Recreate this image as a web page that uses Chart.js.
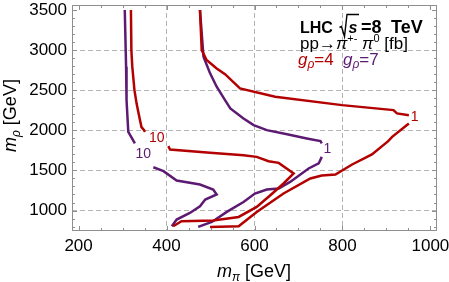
<!DOCTYPE html>
<html>
<head>
<meta charset="utf-8">
<script src="https://cdn.jsdelivr.net/npm/chart.js@4.4.0/dist/chart.umd.min.js"></script>
<style>
  html, body { margin: 0; padding: 0; background: #fff; overflow: hidden; }
</style>
</head>
<body>
<canvas id="chart" width="449" height="282"></canvas>
<script>
// Tick labels
const xTicks = [200, 400, 600, 800, 1000];
const yTicks = [1000, 1500, 2000, 2500, 3000, 3500];

// g_rho = 4, 10 fb contour (split where the label sits)
const red10aX = [319, 320, 322, 327, 332, 338, 343, 349, 351];
const red10aY = [3500, 3000, 2800, 2500, 2330, 2170, 2040, 2000, 1981];
const red10bX = [404, 408, 499, 575, 605, 632, 655, 689, 666, 636, 605, 564, 506, 434, 415];
const red10bY = [1803, 1761, 1719, 1690, 1669, 1615, 1594, 1462, 1337, 1191, 1045, 920, 875, 866, 804];

// g_rho = 4, 1 fb contour
const red1aX = [476, 480, 491, 514, 533, 567, 647, 799, 916, 924, 951];
const red1aY = [3500, 3000, 2876, 2771, 2700, 2523, 2418, 2314, 2252, 2211, 2189];
const red1bX = [951, 913, 904, 867, 822, 784, 753, 727, 666, 605, 564, 499];
const red1bY = [2086, 1919, 1865, 1699, 1574, 1449, 1437, 1399, 1212, 983, 804, 796];

// g_rho = 7, 10 fb contour
const pur10aX = [305, 308, 309, 313, 328];
const pur10aY = [3500, 2792, 2377, 1981, 1836];
const pur10bX = [370, 393, 423, 476, 506, 514, 488, 476, 453, 423, 412];
const pur10bY = [1540, 1491, 1374, 1325, 1262, 1200, 1137, 1054, 970, 888, 804];

// g_rho = 7, 1 fb contour
const pur1aX = [476, 484, 499, 514, 533, 545, 575, 598, 628, 674, 719, 750, 753];
const pur1aY = [3500, 2917, 2710, 2543, 2377, 2273, 2148, 2065, 2002, 1952, 1899, 1865, 1836];
const pur1bX = [753, 746, 723, 681, 655, 628, 601, 575, 537, 503, 472];
const pur1bY = [1669, 1587, 1524, 1357, 1275, 1262, 1212, 1107, 983, 858, 796];

// Contour labels
const labelText = ['10', '10', '1', '1'];
const labelX = [378, 347, 964, 766];
const labelY = [1899, 1699, 2168, 1761];
const labelSeries = ['red', 'purple', 'red', 'purple'];

const RED = '#b30000';
const PURPLE = '#5d1a72';
const FONT = "'Liberation Sans', Arial, sans-serif";

Chart.defaults.font.family = FONT;
Chart.defaults.color = '#000';

function pts(xs, ys) {
  return xs.map((x, i) => ({ x: x, y: ys[i] }));
}

function contour(xs, ys, color) {
  return {
    data: pts(xs, ys),
    borderColor: color,
    borderWidth: 2.5,
    showLine: true,
    pointRadius: 0,
    fill: false,
    tension: 0
  };
}

// frame with inward ticks on all four sides
const framePlugin = {
  id: 'frame',
  afterDatasetsDraw(chart) {
    const { ctx, chartArea: a, scales: { x, y } } = chart;
    ctx.save();
    ctx.strokeStyle = '#8f8f8f';
    ctx.lineWidth = 1;
    ctx.strokeRect(a.left + 0.5, a.top + 0.5, a.right - a.left - 1, a.bottom - a.top - 1);
    ctx.beginPath();
    for (let v = 200; v <= 1000; v += 50) {
      const px = Math.round(x.getPixelForValue(v)) + 0.5;
      const len = v % 200 === 0 ? 5 : 3;
      ctx.moveTo(px, a.bottom); ctx.lineTo(px, a.bottom - len);
      ctx.moveTo(px, a.top); ctx.lineTo(px, a.top + len);
    }
    for (let v = 800; v <= 3500; v += 100) {
      const py = Math.round(y.getPixelForValue(v)) + 0.5;
      const len = v % 500 === 0 ? 5 : 3;
      ctx.moveTo(a.left, py); ctx.lineTo(a.left + len, py);
      ctx.moveTo(a.right, py); ctx.lineTo(a.right - len, py);
    }
    ctx.stroke();
    ctx.restore();
  }
};

// draws a run of text pieces: [text, font, dy]
function drawRun(ctx, x0, y0, pieces) {
  let cx = x0;
  pieces.forEach(p => {
    ctx.font = p[1];
    ctx.fillText(p[0], cx, y0 + (p[2] || 0));
    cx += ctx.measureText(p[0]).width;
  });
}

const textPlugin = {
  id: 'texts',
  afterDraw(chart) {
    const { ctx, scales: { x, y } } = chart;
    ctx.save();
    ctx.textBaseline = 'alphabetic';
    ctx.textAlign = 'left';

    // axis titles
    ctx.fillStyle = '#000';
    drawRun(ctx, 217, 277, [
      ['m', 'italic 18px ' + FONT],
      ['π', 'italic 12px ' + FONT, 4],
      [' [GeV]', '18px ' + FONT]
    ]);
    ctx.save();
    ctx.translate(16, 152);
    ctx.rotate(-Math.PI / 2);
    drawRun(ctx, 0, 0, [
      ['m', 'italic 18px ' + FONT],
      ['ρ', 'italic 12px ' + FONT, 4],
      [' [GeV]', '18px ' + FONT]
    ]);
    ctx.restore();

    // contour labels
    ctx.textAlign = 'center';
    ctx.textBaseline = 'middle';
    ctx.font = '14px ' + FONT;
    labelText.forEach((t, i) => {
      ctx.fillStyle = labelSeries[i] === 'red' ? RED : PURPLE;
      ctx.fillText(t, x.getPixelForValue(labelX[i]), y.getPixelForValue(labelY[i]));
    });

    // legend text
    ctx.textAlign = 'left';
    ctx.textBaseline = 'alphabetic';
    ctx.fillStyle = '#000';
    ctx.font = 'bold 16px ' + FONT;
    ctx.fillText('LHC', 300, 33);
    // radical sign over s
    ctx.strokeStyle = '#000';
    ctx.lineWidth = 1.4;
    ctx.beginPath();
    ctx.moveTo(339.5, 27.5);
    ctx.lineTo(341.5, 26.5);
    ctx.lineTo(344.5, 36.5);
    ctx.lineTo(347, 14.5);
    ctx.lineTo(359, 14.5);
    ctx.stroke();
    ctx.font = 'bold italic 16px ' + FONT;
    ctx.fillText('s', 348.5, 33);
    ctx.font = 'bold 18px ' + FONT;
    ctx.fillText('=8', 361, 33);
    ctx.fillText('TeV', 391, 33);

    drawRun(ctx, 300, 49, [
      ['pp→', '17px ' + FONT],
      ['π', 'italic 17px ' + FONT],
      ['+-', '11px ' + FONT, -7],
      [' π', 'italic 17px ' + FONT],
      ['0', '11px ' + FONT, -7],
      [' [fb]', '17px ' + FONT]
    ]);

    ctx.fillStyle = RED;
    drawRun(ctx, 298, 65, [
      ['g', 'italic 17px ' + FONT],
      ['ρ', 'italic 12px ' + FONT, 3],
      ['=4', '17px ' + FONT]
    ]);
    ctx.fillStyle = PURPLE;
    drawRun(ctx, 343, 65, [
      ['g', 'italic 17px ' + FONT],
      ['ρ', 'italic 12px ' + FONT, 3],
      ['=7', '17px ' + FONT]
    ]);
    ctx.restore();
  }
};

function gridColor(lo, hi) {
  return ctx => (ctx.tick && ctx.tick.value > lo && ctx.tick.value < hi) ? '#b4b4b4' : 'rgba(0,0,0,0)';
}

new Chart(document.getElementById('chart').getContext('2d'), {
  type: 'scatter',
  data: {
    datasets: [
      contour(red10aX, red10aY, RED),
      contour(red10bX, red10bY, RED),
      contour(red1aX, red1aY, RED),
      contour(red1bX, red1bY, RED),
      contour(pur10aX, pur10aY, PURPLE),
      contour(pur10bX, pur10bY, PURPLE),
      contour(pur1aX, pur1aY, PURPLE),
      contour(pur1bX, pur1bY, PURPLE)
    ]
  },
  options: {
    responsive: false,
    animation: false,
    layout: { padding: { left: 0, right: 12, top: 5, bottom: 0 } },
    plugins: {
      legend: { display: false },
      tooltip: { enabled: false }
    },
    scales: {
      x: {
        type: 'linear',
        min: 185,
        max: 1015,
        afterBuildTicks: s => { s.ticks = xTicks.map(v => ({ value: v })); },
        afterFit: s => { s.height = 51; s.paddingLeft = 0; s.paddingRight = 0; },
        grid: { color: gridColor(200, 1000), lineWidth: 1, drawTicks: false },
        border: { display: false, dash: [5, 3] },
        ticks: { font: { size: 17 }, color: '#000', padding: 5, maxRotation: 0, autoSkip: false, callback: v => String(v) }
      },
      y: {
        type: 'linear',
        min: 745,
        max: 3562,
        afterBuildTicks: s => { s.ticks = yTicks.map(v => ({ value: v })); },
        afterFit: s => { s.width = 72; s.paddingTop = 0; s.paddingBottom = 0; },
        grid: { color: gridColor(900, 3500), lineWidth: 1, drawTicks: false },
        border: { display: false, dash: [5, 3] },
        ticks: { font: { size: 17 }, color: '#000', padding: 5, autoSkip: false, callback: v => String(v) }
      }
    }
  },
  plugins: [framePlugin, textPlugin]
});
</script>
</body>
</html>
